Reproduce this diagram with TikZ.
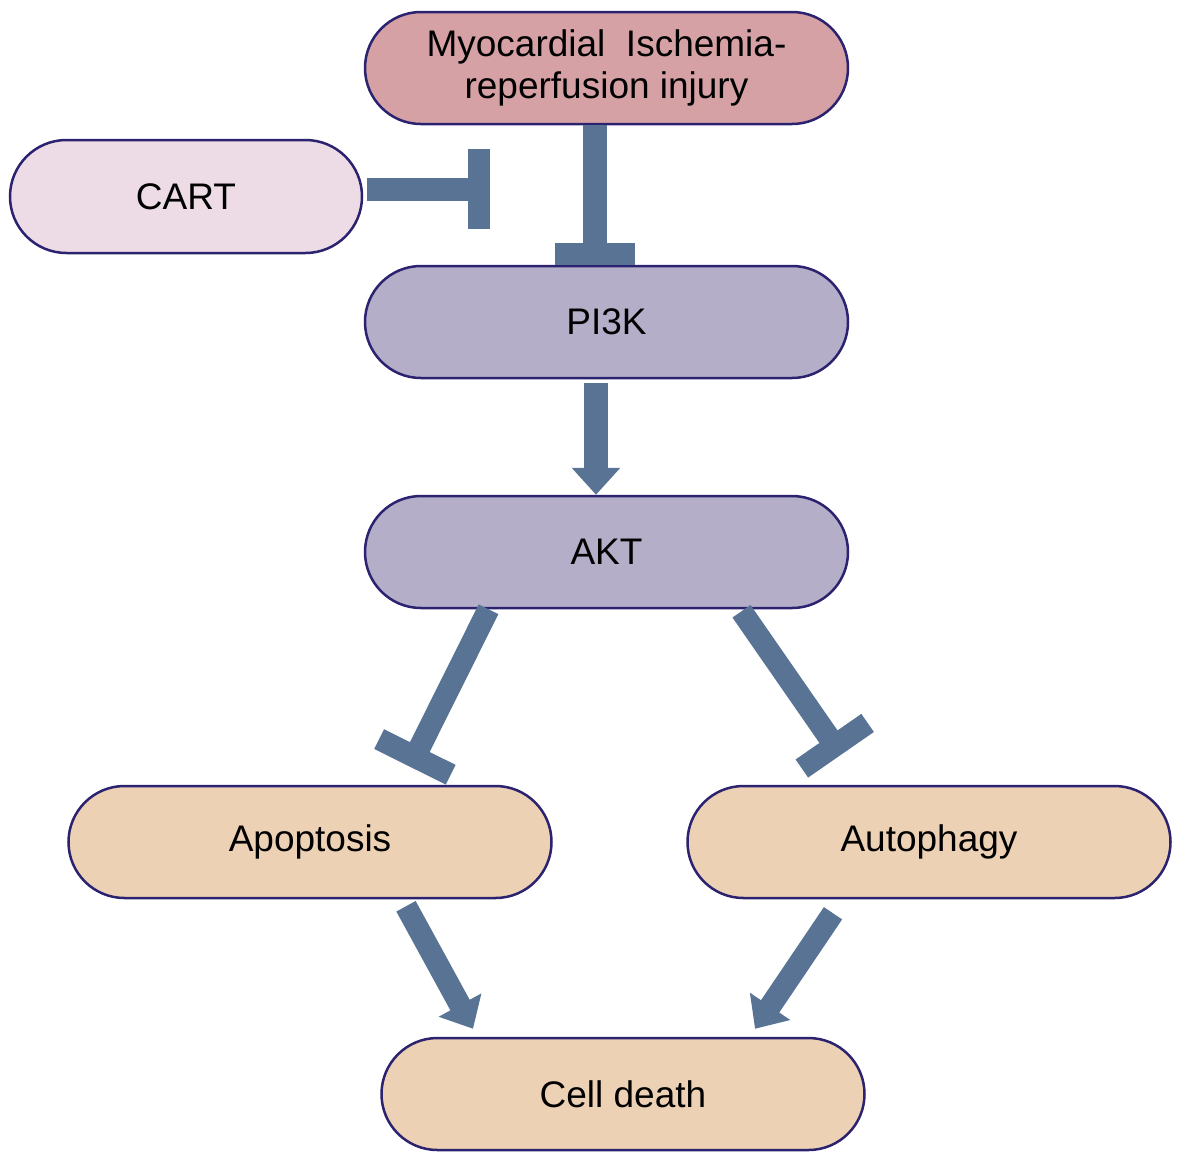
\documentclass[tikz,border=0pt]{standalone}
\usepackage{fontspec}
\setmainfont{Liberation Sans}
\usetikzlibrary{arrows.meta,calc,shapes.misc}
\definecolor{bordercol}{HTML}{2B2370}
\definecolor{myofill}{HTML}{D5A1A5}
\definecolor{cartfill}{HTML}{EDDCE5}
\definecolor{kinfill}{HTML}{B5AEC9}
\definecolor{outfill}{HTML}{EDD1B4}
\definecolor{linkcol}{HTML}{587393}
\tikzset{
  pill/.style={rounded rectangle, draw=bordercol, line width=2.5pt, minimum width=483pt,
    minimum height=112pt, inner sep=0pt, align=center,
    font=\fontsize{37}{42}\selectfont},
  inhib/.style={draw=linkcol, line width=#1, -{Rectangle[width=80pt,length=22pt]}},
  inhib/.default=23pt,
  activ/.style={draw=linkcol, line width=#1, -{Triangle[width=47pt,length=27pt]}},
  activ/.default=22pt
}
\begin{document}
\begin{tikzpicture}[x=1pt,y=-1pt]
\useasboundingbox[fill=white] (0,0) rectangle (1181,1160);
\node[pill, fill=myofill] (myo) at (606.5,68) {Myocardial\ \ Ischemia-\\reperfusion injury};
\node[pill, fill=cartfill, minimum width=352pt, minimum height=113pt] (cart) at (186,196.5) {CART};
\node[pill, fill=kinfill] (pi3k) at (606.5,322) {PI3K};
\node[pill, fill=kinfill] (akt) at (606.5,552) {AKT};
\node[pill, fill=outfill] (apop) at (310,842) {Apoptosis};
\node[pill, fill=outfill] (auto) at (929,842) {Autophagy};
\node[pill, fill=outfill] (cell) at (623,1094) {Cell death};

\coordinate (cartend) at ($(cart.east)+(127,-7.5)$);
\draw[inhib=24pt] ($(myo.south)+(-11.5,0)$) -- ($(pi3k.north)+(-11.5,0)$);
\draw[inhib] ($(cart.east)+(4,-7.5)$) -- (cartend);
\draw[activ=24pt] ($(pi3k.south)+(-10.5,4)$) -- ($(akt.north)+(-10.5,0)$);
\draw[inhib=22pt] ($(akt.south)+(-118,0)$) -- ($(apop.north)+(100,-18)$);
\draw[inhib=22pt] ($(akt.south)+(135,2)$) -- ($(auto.north)+(-88,-30)$);
\draw[activ] ($(apop.south)+(96,7)$) -- ($(cell.north)+(-150,-8)$);
\draw[activ] ($(auto.south)+(-96,14)$) -- ($(cell.north)+(132,-8)$);
\end{tikzpicture}
\end{document}
